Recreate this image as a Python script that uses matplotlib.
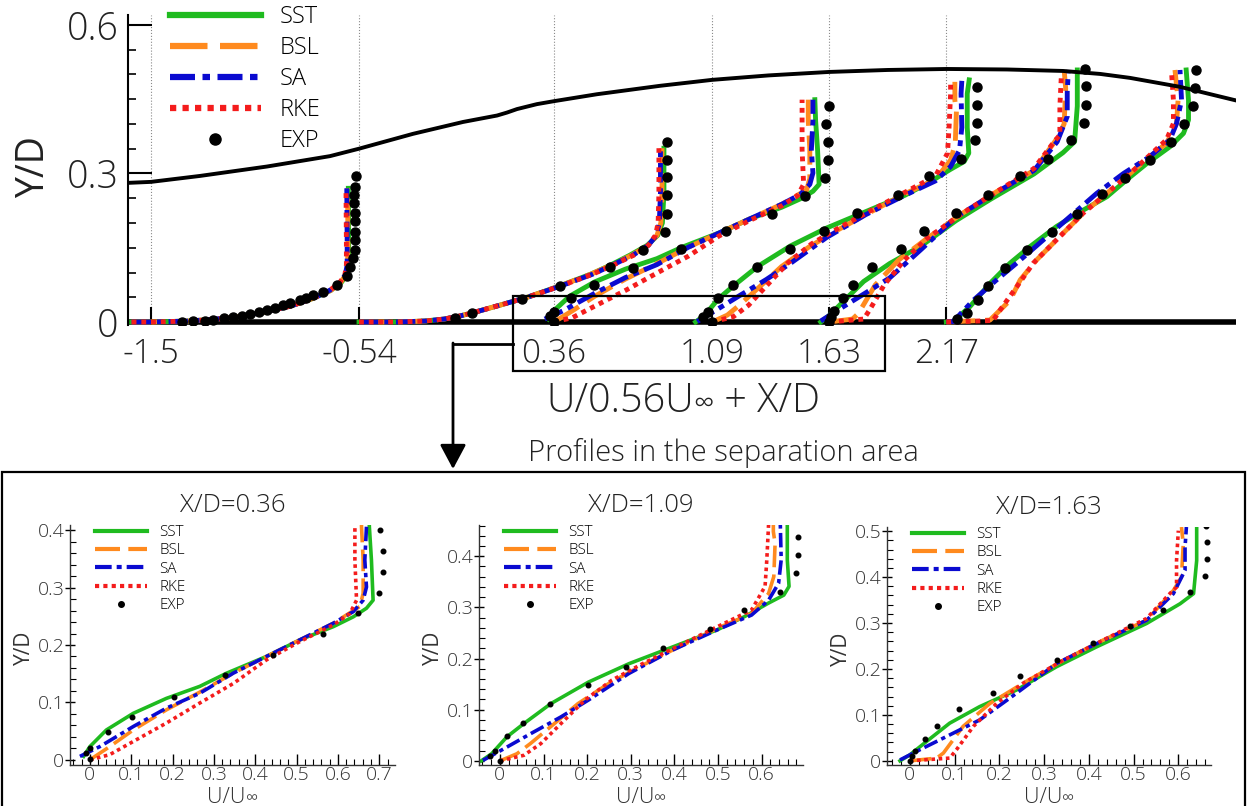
import numpy as np
import matplotlib.pyplot as plt
from matplotlib.patches import Rectangle, FancyArrowPatch
from matplotlib.lines import Line2D
from matplotlib.ticker import MultipleLocator, FuncFormatter

plt.rcParams['font.family'] = ['Open Sans', 'DejaVu Sans']
plt.rcParams['font.weight'] = 'light'

# measurement stations X/D and the velocity scaling used in the overview
stations = [-1.5, -0.54, 0.36, 1.09, 1.63, 2.17]
station_labels = ['-1.5', '-0.54', '0.36', '1.09', '1.63', '2.17']
u_scale = 0.56

# upper (hump) wall
wall_x = [-1.606, -1.5, -1.274, -0.965, -0.674, -0.54, -0.291, -0.060, 0.097, 0.143, 0.189,
          0.281, 0.360, 0.558, 0.849, 1.089, 1.35, 1.629, 1.9, 2.173, 2.45, 2.709, 2.88,
          3.018, 3.248, 3.502]
wall_y = [0.281, 0.283, 0.295, 0.314, 0.335, 0.350, 0.380, 0.404, 0.417, 0.423, 0.430,
          0.440, 0.446, 0.460, 0.477, 0.489, 0.498, 0.505, 0.509, 0.511, 0.510, 0.507, 0.501,
          0.493, 0.475, 0.448]

# ---- X/D = -1.5 (U/Uinf, Y/D)
m150_y = [0.0, 0.0, 0.002, 0.008, 0.018, 0.032, 0.048, 0.064, 0.080, 0.095, 0.115, 0.16, 0.27]
m150_sst = [-0.05, 0.0, 0.10, 0.20, 0.28, 0.36, 0.42, 0.465, 0.492, 0.506, 0.510, 0.511, 0.510]
m150_bsl = [-0.05, 0.0, 0.10, 0.20, 0.28, 0.36, 0.42, 0.465, 0.490, 0.503, 0.508, 0.509, 0.508]
m150_sa = [-0.05, 0.0, 0.10, 0.20, 0.28, 0.36, 0.42, 0.462, 0.488, 0.502, 0.507, 0.507, 0.506]
m150_rke = [-0.05, 0.0, 0.10, 0.20, 0.28, 0.36, 0.42, 0.462, 0.488, 0.501, 0.505, 0.505, 0.504]
m150_exp_u = [0.08, 0.109, 0.14, 0.161, 0.19, 0.213, 0.235, 0.256, 0.28, 0.299, 0.32, 0.342,
              0.36, 0.385, 0.40, 0.419, 0.445, 0.48, 0.506, 0.514, 0.523, 0.527, 0.527, 0.527,
              0.527, 0.527, 0.525, 0.525, 0.527, 0.529]
m150_exp_y = [0.001, 0.002, 0.003, 0.005, 0.008, 0.011, 0.013, 0.016, 0.020, 0.024, 0.029, 0.034,
              0.038, 0.044, 0.049, 0.055, 0.061, 0.075, 0.092, 0.112, 0.129, 0.145, 0.166, 0.182,
              0.203, 0.220, 0.240, 0.257, 0.273, 0.294]

# ---- X/D = -0.54
m054_y = [0.0, 0.0, 0.002, 0.006, 0.012, 0.020, 0.034, 0.050, 0.073, 0.097, 0.115, 0.135,
          0.155, 0.175, 0.20, 0.26, 0.351]
m054_sst = [0.0, 0.10, 0.17, 0.22, 0.26, 0.30, 0.364, 0.435, 0.519, 0.600, 0.650, 0.700,
            0.745, 0.772, 0.784, 0.788, 0.788]
m054_bsl = [0.0, 0.10, 0.17, 0.22, 0.26, 0.30, 0.364, 0.435, 0.519, 0.600, 0.652, 0.705,
            0.748, 0.770, 0.780, 0.783, 0.783]
m054_sa = [0.0, 0.10, 0.17, 0.22, 0.26, 0.30, 0.364, 0.435, 0.522, 0.605, 0.655, 0.708,
           0.748, 0.768, 0.776, 0.779, 0.779]
m054_rke = [0.0, 0.10, 0.17, 0.22, 0.26, 0.30, 0.364, 0.435, 0.522, 0.605, 0.657, 0.710,
            0.748, 0.766, 0.773, 0.775, 0.775]
m054_exp_u = [0.248, 0.291, 0.420, 0.519, 0.649, 0.735, 0.791, 0.795, 0.795, 0.795, 0.795, 0.795]
m054_exp_y = [0.009, 0.018, 0.046, 0.073, 0.112, 0.145, 0.182, 0.219, 0.256, 0.292, 0.327, 0.364]

# ---- X/D = 0.36
p036_sst_u = [-0.015, 0.0, 0.040, 0.105, 0.185, 0.266, 0.331, 0.427, 0.508, 0.589, 0.637,
              0.669, 0.685, 0.681, 0.676, 0.674]
p036_sst_y = [0.006, 0.023, 0.052, 0.081, 0.107, 0.128, 0.151, 0.180, 0.209, 0.232, 0.249,
              0.264, 0.278, 0.348, 0.406, 0.449]
p036_bsl_u = [0.0, 0.048, 0.105, 0.185, 0.266, 0.347, 0.427, 0.508, 0.589, 0.653, 0.661,
              0.661, 0.657, 0.657]
p036_bsl_y = [0.0, 0.023, 0.052, 0.087, 0.118, 0.151, 0.180, 0.209, 0.238, 0.267, 0.290,
              0.348, 0.406, 0.449]
p036_sa_u = [-0.024, 0.024, 0.105, 0.185, 0.266, 0.347, 0.427, 0.508, 0.589, 0.637, 0.661,
             0.669, 0.665, 0.669, 0.669]
p036_sa_y = [0.006, 0.023, 0.058, 0.090, 0.116, 0.151, 0.180, 0.209, 0.238, 0.258, 0.278,
             0.301, 0.348, 0.406, 0.449]
p036_rke_u = [0.0, 0.048, 0.105, 0.185, 0.266, 0.347, 0.427, 0.508, 0.589, 0.629, 0.645,
              0.641, 0.641, 0.641]
p036_rke_y = [0.0, 0.009, 0.032, 0.064, 0.099, 0.133, 0.174, 0.206, 0.235, 0.255, 0.278,
              0.348, 0.406, 0.449]
p036_exp_u = [0.0, -0.010, 0.0, 0.043, 0.103, 0.203, 0.328, 0.444, 0.563, 0.648, 0.700,
              0.708, 0.708, 0.702, 0.710]
p036_exp_y = [0.001, 0.012, 0.020, 0.048, 0.074, 0.110, 0.147, 0.183, 0.219, 0.255, 0.291,
              0.328, 0.364, 0.400, 0.436]

# ---- X/D = 1.09
p109_sst_u = [-0.043, -0.019, 0.016, 0.055, 0.117, 0.203, 0.296, 0.397, 0.498, 0.561, 0.615,
              0.651, 0.663, 0.659, 0.659, 0.664]
p109_sst_y = [0.0, 0.014, 0.047, 0.073, 0.112, 0.154, 0.190, 0.223, 0.256, 0.282, 0.308,
              0.324, 0.341, 0.393, 0.461, 0.489]
p109_bsl_u = [0.0, 0.039, 0.070, 0.125, 0.179, 0.249, 0.320, 0.397, 0.498, 0.577, 0.616,
              0.628, 0.631, 0.627, 0.627]
p109_bsl_y = [0.0, 0.014, 0.034, 0.073, 0.112, 0.151, 0.184, 0.217, 0.259, 0.288, 0.327,
              0.360, 0.425, 0.448, 0.485]
p109_sa_u = [-0.039, 0.016, 0.070, 0.140, 0.203, 0.296, 0.397, 0.498, 0.577, 0.616, 0.639,
             0.645, 0.643, 0.645]
p109_sa_y = [0.001, 0.027, 0.053, 0.086, 0.119, 0.171, 0.217, 0.256, 0.285, 0.314, 0.347,
             0.393, 0.461, 0.487]
p109_rke_u = [0.0, 0.055, 0.094, 0.140, 0.195, 0.257, 0.327, 0.405, 0.498, 0.577, 0.608,
              0.612, 0.616, 0.616]
p109_rke_y = [0.0, 0.011, 0.034, 0.073, 0.119, 0.158, 0.190, 0.223, 0.262, 0.295, 0.341,
              0.393, 0.461, 0.481]
p109_exp_u = [0.0, -0.023, -0.012, 0.016, 0.053, 0.115, 0.201, 0.288, 0.373, 0.481, 0.560,
              0.643, 0.678, 0.684, 0.683, 0.683]
p109_exp_y = [0.0, 0.010, 0.020, 0.048, 0.074, 0.112, 0.148, 0.184, 0.221, 0.257, 0.294,
              0.330, 0.367, 0.402, 0.438, 0.474]

# ---- X/D = 1.63
p163_sst_u = [-0.022, 0.0, 0.037, 0.089, 0.156, 0.238, 0.328, 0.417, 0.529, 0.604, 0.634,
              0.641, 0.641]
p163_sst_y = [0.0, 0.013, 0.042, 0.082, 0.118, 0.154, 0.205, 0.248, 0.299, 0.342, 0.364,
              0.436, 0.509]
p163_bsl_u = [0.0, 0.060, 0.075, 0.119, 0.179, 0.253, 0.343, 0.432, 0.529, 0.589, 0.607,
              0.611, 0.607]
p163_bsl_y = [0.0, 0.006, 0.017, 0.075, 0.125, 0.169, 0.219, 0.263, 0.306, 0.371, 0.400,
              0.472, 0.509]
p163_sa_u = [-0.022, 0.022, 0.082, 0.156, 0.238, 0.328, 0.417, 0.529, 0.589, 0.615, 0.615,
             0.618]
p163_sa_y = [0.002, 0.024, 0.053, 0.089, 0.147, 0.212, 0.255, 0.306, 0.364, 0.415, 0.465,
             0.509]
p163_rke_u = [0.0, 0.089, 0.104, 0.142, 0.194, 0.253, 0.343, 0.432, 0.529, 0.581, 0.596,
              0.596, 0.600]
p163_rke_y = [0.0, 0.006, 0.024, 0.075, 0.125, 0.169, 0.219, 0.263, 0.310, 0.364, 0.378,
              0.436, 0.501]
p163_exp_u = [0.0, 0.004, 0.011, 0.035, 0.061, 0.110, 0.186, 0.246, 0.328, 0.410, 0.492,
              0.565, 0.626, 0.659, 0.663, 0.663, 0.662]
p163_exp_y = [0.0, 0.011, 0.022, 0.048, 0.075, 0.112, 0.148, 0.184, 0.220, 0.256, 0.294,
              0.329, 0.367, 0.402, 0.439, 0.476, 0.511]

# ---- X/D = 2.17
p217_sst_u = [0.0, 0.018, 0.061, 0.113, 0.165, 0.216, 0.285, 0.354, 0.415, 0.466, 0.518,
              0.578, 0.613, 0.626, 0.626, 0.620]
p217_sst_y = [0.0, 0.001, 0.031, 0.078, 0.119, 0.152, 0.193, 0.226, 0.253, 0.287, 0.320,
              0.354, 0.381, 0.408, 0.448, 0.509]
p217_bsl_u = [0.0, 0.113, 0.165, 0.191, 0.233, 0.285, 0.354, 0.415, 0.475, 0.526, 0.569,
              0.595, 0.599, 0.591]
p217_bsl_y = [0.0, 0.004, 0.044, 0.085, 0.125, 0.166, 0.220, 0.260, 0.300, 0.334, 0.361,
              0.401, 0.448, 0.509]
p217_sa_u = [0.0, 0.018, 0.070, 0.130, 0.182, 0.251, 0.320, 0.389, 0.458, 0.526, 0.578,
             0.595, 0.608, 0.604]
p217_sa_y = [0.0, 0.001, 0.044, 0.085, 0.119, 0.166, 0.213, 0.260, 0.300, 0.334, 0.368,
             0.401, 0.448, 0.509]
p217_rke_u = [0.0, 0.121, 0.139, 0.182, 0.225, 0.285, 0.354, 0.415, 0.475, 0.526, 0.569,
              0.587, 0.587, 0.582]
p217_rke_y = [0.0, 0.003, 0.024, 0.071, 0.119, 0.166, 0.220, 0.260, 0.300, 0.337, 0.368,
              0.401, 0.448, 0.506]
p217_exp_u = [0.027, 0.053, 0.083, 0.109, 0.152, 0.208, 0.273, 0.337, 0.402, 0.462, 0.526,
              0.582, 0.615, 0.637, 0.643, 0.645]
p217_exp_y = [0.007, 0.018, 0.044, 0.073, 0.110, 0.145, 0.182, 0.218, 0.258, 0.290, 0.327,
              0.364, 0.400, 0.436, 0.472, 0.509]

models = ['SST', 'BSL', 'SA', 'RKE']
profiles = {
    -1.5: {'SST': (m150_sst, m150_y), 'BSL': (m150_bsl, m150_y), 'SA': (m150_sa, m150_y),
           'RKE': (m150_rke, m150_y), 'EXP': (m150_exp_u, m150_exp_y)},
    -0.54: {'SST': (m054_sst, m054_y), 'BSL': (m054_bsl, m054_y), 'SA': (m054_sa, m054_y),
            'RKE': (m054_rke, m054_y), 'EXP': (m054_exp_u, m054_exp_y)},
    0.36: {'SST': (p036_sst_u, p036_sst_y), 'BSL': (p036_bsl_u, p036_bsl_y),
           'SA': (p036_sa_u, p036_sa_y), 'RKE': (p036_rke_u, p036_rke_y),
           'EXP': (p036_exp_u, p036_exp_y)},
    1.09: {'SST': (p109_sst_u, p109_sst_y), 'BSL': (p109_bsl_u, p109_bsl_y),
           'SA': (p109_sa_u, p109_sa_y), 'RKE': (p109_rke_u, p109_rke_y),
           'EXP': (p109_exp_u, p109_exp_y)},
    1.63: {'SST': (p163_sst_u, p163_sst_y), 'BSL': (p163_bsl_u, p163_bsl_y),
           'SA': (p163_sa_u, p163_sa_y), 'RKE': (p163_rke_u, p163_rke_y),
           'EXP': (p163_exp_u, p163_exp_y)},
    2.17: {'SST': (p217_sst_u, p217_sst_y), 'BSL': (p217_bsl_u, p217_bsl_y),
           'SA': (p217_sa_u, p217_sa_y), 'RKE': (p217_rke_u, p217_rke_y),
           'EXP': (p217_exp_u, p217_exp_y)},
}

styles = {
    'SST': dict(color='#1fbb1f', linestyle='-'),
    'BSL': dict(color='#ff8a1e', dashes=(6, 2)),
    'SA': dict(color='#0a0ad0', dashes=(4, 1.2, 1.2, 1.2)),
    'RKE': dict(color='#f41c1c', dashes=(1, 1)),
}
txt = '#222222'
W, H = 1248, 806


def legend_handles(lw, ms):
    h = [Line2D([], [], lw=lw, **styles[m]) for m in models]
    h.append(Line2D([], [], ls='none', marker='o', color='k', ms=ms))
    return h


fig = plt.figure(figsize=(12.48, 8.06), dpi=100)
renderer = fig.canvas.get_renderer()


def chain_text(cx, base, parts, color):
    # write pieces side by side on one baseline (small infinity as subscript)
    items = [fig.text(0, 1 - base / H, s, fontsize=fs, va='baseline', ha='left', color=color)
             for s, fs in parts]
    widths = [t.get_window_extent(renderer).width for t in items]
    x = cx - sum(widths) / 2
    for t, w in zip(items, widths):
        t.set_x(x / W)
        x += w


# ---------------- overview
ax = fig.add_axes([128 / W, 1 - 324.5 / H, 1108 / W, 309.5 / H])
for s in stations:
    ax.axvline(s, color='#8a8a8a', lw=0.8, ls=':', zorder=0)
ax.axhline(0, color='k', lw=4, zorder=1.5)
for s in stations:
    for m in models:
        u, y = profiles[s][m]
        ax.plot(s + np.array(u) / u_scale, y, lw=3.5, zorder=2, **styles[m])
    u, y = profiles[s]['EXP']
    ax.plot(s + np.array(u) / u_scale, y, 'o', color='k', ms=6.5, zorder=4)
ax.plot(wall_x, wall_y, color='k', lw=2.8, zorder=3)

ax.set_xlim(-1.606, 3.507)
ax.set_ylim(-0.005, 0.62)
for sp in ['top', 'right', 'bottom']:
    ax.spines[sp].set_visible(False)
ax.spines['left'].set_linewidth(1.5)
ax.set_xticks(stations, station_labels)
ax.set_yticks([0, 0.3, 0.6], ['0', '0.3', '0.6'])
ax.yaxis.set_minor_locator(MultipleLocator(0.05))
ax.tick_params(axis='x', direction='in', length=13, width=1.5, labelsize=24, pad=9,
               labelcolor=txt)
ax.tick_params(axis='y', which='major', direction='in', length=17, width=1.5, labelsize=27,
               pad=7, labelcolor=txt)
ax.tick_params(axis='y', which='minor', direction='in', length=6, width=1.2)
ax.set_ylabel('Y/D', fontsize=27, color=txt)
ax.yaxis.set_label_coords(-0.085, 0.51)
ax.yaxis.label.set_va('center')
ax.legend(legend_handles(4.5, 8), models + ['EXP'], loc='upper left',
          bbox_to_anchor=(170 / W, 1 - 5 / H), bbox_transform=fig.transFigure,
          frameon=False, fontsize=17, handlelength=3.85, handletextpad=0.8,
          labelspacing=0.3, borderpad=0, borderaxespad=0)

chain_text(683, 412, [('U/0.56U', 28.5), ('\u221e', 21), (' + X/D', 28.5)], txt)

# box around the separation stations and the arrow to the detail panels
fig.add_artist(Rectangle((513 / W, 1 - 371 / H), 372 / W, 75 / H, fill=False,
                         ec='k', lw=1.6, transform=fig.transFigure))
fig.add_artist(Line2D([513 / W, 453 / W], [1 - 344 / H, 1 - 344 / H], color='k',
                      lw=2, transform=fig.transFigure))
fig.add_artist(FancyArrowPatch((453 / W, 1 - 343 / H), (453 / W, 1 - 469 / H),
                               arrowstyle='-|>,head_length=0.75,head_width=0.4',
                               mutation_scale=20, lw=2, color='k', shrinkA=0, shrinkB=0,
                               transform=fig.transFigure))
fig.text(723 / W, 1 - 453 / H, 'Profiles in the separation area', ha='center',
         va='center', fontsize=21, color=txt)
fig.add_artist(Rectangle((2 / W, -0.02), 1243 / W, 1 - 472 / H + 0.02, fill=False,
                         ec='k', lw=1.6, transform=fig.transFigure))

# ---------------- detail panels
panels = [
    (0.36, [70, 525, 325, 240], (-0.048, 0.738), (-0.009, 0.409), [0, 0.1, 0.2, 0.3, 0.4]),
    (1.09, [479, 525, 324, 240], (-0.048, 0.695), (-0.008, 0.461), [0, 0.1, 0.2, 0.3, 0.4]),
    (1.63, [887, 527, 324, 238], (-0.051, 0.673), (-0.009, 0.509),
     [0, 0.1, 0.2, 0.3, 0.4, 0.5]),
]
fmt = FuncFormatter(lambda v, p: '0' if abs(v) < 1e-9 else f'{v:.1f}')

for s, (l, t, w, h), xl, yl, yt in panels:
    a = fig.add_axes([l / W, 1 - (t + h) / H, w / W, h / H])
    for m in models:
        u, y = profiles[s][m]
        a.plot(u, y, lw=2.6, **styles[m])
    u, y = profiles[s]['EXP']
    a.plot(u, y, 'o', color='k', ms=3.3, zorder=4)
    a.set_xlim(*xl)
    a.set_ylim(*yl)
    a.set_xticks(np.arange(0, xl[1], 0.1))
    a.set_yticks(yt)
    a.xaxis.set_major_formatter(fmt)
    a.yaxis.set_major_formatter(fmt)
    a.xaxis.set_minor_locator(MultipleLocator(0.02))
    a.yaxis.set_minor_locator(MultipleLocator(0.02))
    for sp in ['top', 'right']:
        a.spines[sp].set_visible(False)
    for sp in ['left', 'bottom']:
        a.spines[sp].set_linewidth(1.0)
        a.spines[sp].set_color('#333333')
    a.tick_params(axis='x', which='major', direction='in', length=8, width=1, labelsize=14,
                  pad=1, labelcolor='#333333')
    a.tick_params(axis='x', which='minor', direction='in', length=4, width=0.8)
    a.tick_params(axis='y', which='major', direction='inout', length=7, width=1,
                  labelsize=14, pad=0.5, labelcolor='#333333')
    a.tick_params(axis='y', which='minor', direction='in', length=4, width=0.8)
    a.set_title(f'X/D={s:.2f}', fontsize=18.5, pad=9, color=txt, fontweight='light')
    chain_text(l + w / 2, 803, [('U/U', 15.5), ('\u221e', 12.5)], '#333333')
    a.set_ylabel('Y/D', fontsize=15, color='#333333')
    a.yaxis.set_label_coords(-0.14, 0.49)
    a.yaxis.label.set_va('center')
    a.legend(legend_handles(3, 4), models + ['EXP'], loc='upper left',
             bbox_to_anchor=(0.077, 1.0), frameon=False, fontsize=11, handlelength=3.4,
             handletextpad=0.8, labelspacing=0.22, borderpad=0, borderaxespad=0)

fig.savefig('out.png', dpi=100)
